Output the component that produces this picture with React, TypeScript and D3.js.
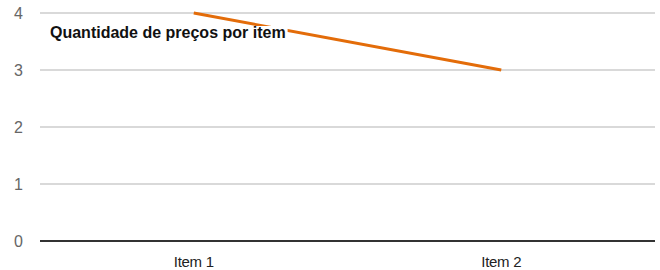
import React, { useRef, useEffect } from 'react';
import * as d3 from 'd3';

const categories = ['Item 1', 'Item 2'];
const values = [4, 3];
const yTicks = [0, 1, 2, 3, 4];
const title = 'Quantidade de preços por item';

const W = 660;
const H = 270;

const App: React.FC = () => {
  const ref = useRef<SVGSVGElement>(null);

  useEffect(() => {
    const svg = d3.select(ref.current);
    svg.selectAll('*').remove();

    const x = d3.scaleBand().domain(categories).range([40, 655]);
    const y = d3.scaleLinear().domain([0, 4]).range([241, 13]);
    const font = 'Liberation Sans, Arial, sans-serif';

    // gridlines
    svg
      .append('g')
      .selectAll('line')
      .data(yTicks.filter((t) => t > 0))
      .enter()
      .append('line')
      .attr('x1', 40)
      .attr('x2', 655)
      .attr('y1', (d) => y(d))
      .attr('y2', (d) => y(d))
      .attr('stroke', '#cccccc')
      .attr('stroke-width', 1.5);

    // y labels
    svg
      .append('g')
      .selectAll('text')
      .data(yTicks)
      .enter()
      .append('text')
      .attr('x', 23)
      .attr('y', (d) => y(d))
      .attr('dy', '0.35em')
      .attr('text-anchor', 'end')
      .attr('font-family', font)
      .attr('font-size', 16)
      .attr('fill', '#666')
      .text((d) => d);

    // baseline
    svg
      .append('line')
      .attr('x1', 40)
      .attr('x2', 655)
      .attr('y1', y(0))
      .attr('y2', y(0))
      .attr('stroke', '#333')
      .attr('stroke-width', 2);

    // x labels
    svg
      .append('g')
      .selectAll('text')
      .data(categories)
      .enter()
      .append('text')
      .attr('x', (d) => (x(d) as number) + x.bandwidth() / 2)
      .attr('y', 267)
      .attr('text-anchor', 'middle')
      .attr('font-family', font)
      .attr('font-size', 15)
      .attr('letter-spacing', -0.3)
      .attr('fill', '#222')
      .text((d) => d);

    // series line
    const line = d3
      .line<number>()
      .x((_, i) => (x(categories[i]) as number) + x.bandwidth() / 2)
      .y((d) => y(d));

    svg
      .append('path')
      .datum(values)
      .attr('d', line)
      .attr('fill', 'none')
      .attr('stroke', '#e36c09')
      .attr('stroke-width', 3);

    // title with white box behind it
    const tg = svg.append('g');
    const bg = tg.append('rect').attr('fill', '#fff');
    const t = tg
      .append('text')
      .attr('x', 50)
      .attr('y', 38)
      .attr('font-family', font)
      .attr('font-size', 16)
      .attr('font-weight', 'bold')
      .attr('fill', '#111')
      .text(title);
    const bb = (t.node() as SVGTextElement).getBBox();
    bg.attr('x', bb.x)
      .attr('y', bb.y + 2)
      .attr('width', bb.width + 2)
      .attr('height', bb.height - 2);
  }, []);

  return (
    <svg
      ref={ref}
      width={W}
      height={H}
      style={{ position: 'absolute', left: 0, top: 0 }}
    />
  );
};

export default App;
